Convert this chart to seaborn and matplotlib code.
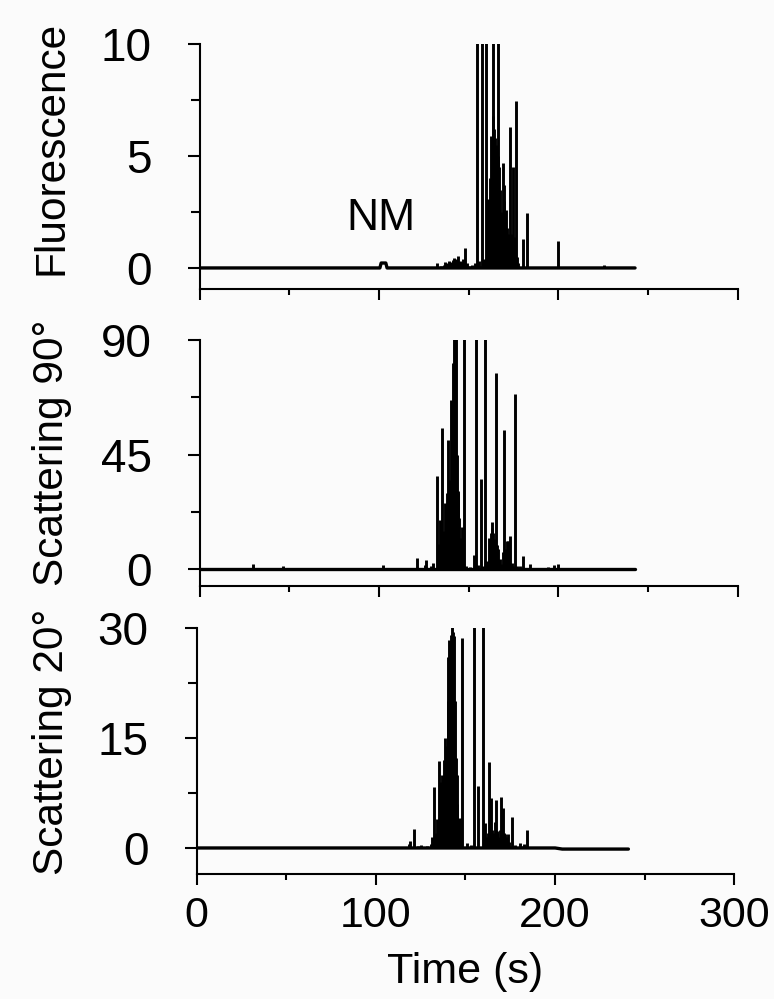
import numpy as np
import pandas as pd
import matplotlib
matplotlib.use("Agg")
import matplotlib.pyplot as plt
import seaborn as sns
from matplotlib.ticker import MultipleLocator

# ---------------- data ----------------
time_ticks = [0, 100, 200, 300]

# Fluorescence panel
fl_base_t = [0, 100.5, 101.2, 103.8, 104.5, 242.8]
fl_base_y = [0, 0, 0.22, 0.22, 0, 0]
fl_spike_t = [132.5, 134.5, 136.0, 137.0, 138.0, 139.0, 140.0, 141.0, 142.0, 143.0,
              144.0, 145.0, 146.0, 147.0, 148.0, 149.0, 150.5, 152.0, 153.5, 154.5,
              156.0, 157.3, 158.5, 159.7, 160.2, 160.6, 161.0, 161.5, 162.0, 162.5,
              163.0, 163.4, 163.8, 164.1, 164.5, 165.1, 165.6, 166.1, 166.6, 167.0,
              167.5, 168.0, 168.5, 169.0, 169.5, 169.9, 170.4, 170.8, 171.3, 171.8,
              172.3, 172.7, 173.1, 173.6, 174.0, 174.5, 174.9, 175.5, 176.2, 176.8,
              177.4, 180.5, 182.7, 200.0, 225.7]
fl_spike_h = [0.2, 0.1, 0.15, 0.25, 0.2, 0.3, 0.25, 0.35, 0.45, 0.4,
              0.55, 0.3, 0.25, 0.4, 0.88, 0.2, 0.1, 0.15, 0.2, 10.5,
              0.3, 10.5, 0.4, 10.5, 1.5, 3.1, 2.2, 2.8, 4.0, 5.9,
              5.0, 10.5, 6.8, 6.2, 5.8, 5.4, 5.5, 5.0, 10.5, 4.5,
              3.5, 1.0, 2.5, 4.7, 3.0, 3.7, 2.2, 2.6, 1.8, 1.5,
              1.2, 1.0, 6.3, 1.5, 1.0, 1.2, 4.5, 1.4, 7.45, 0.5,
              0.2, 1.28, 2.44, 1.2, 0.15]

# Scattering 90 panel
s90_base_t = [0, 242.8]
s90_base_y = [0, 0]
s90_spike_t = [29.5, 46.6, 102.0, 121.0, 125.5, 126.2, 129.0, 130.3, 132.5, 133.3,
               134.0, 134.7, 135.3, 136.0, 136.8, 137.3, 137.7, 138.2, 138.7, 139.3,
               140.0, 140.5, 141.1, 141.6, 142.0, 142.4, 142.8, 143.3, 143.8, 144.3,
               144.8, 145.3, 146.1, 147.4, 148.5, 151.0, 153.2, 154.1, 155.0, 156.9,
               158.0, 159.3, 160.5, 161.5, 162.2, 162.8, 163.3, 163.8, 164.3, 164.7,
               165.3, 165.9, 166.5, 167.5, 168.5, 169.3, 169.9, 170.5, 171.2, 171.7,
               172.1, 172.6, 173.1, 174.0, 175.0, 175.9, 177.0, 178.6, 180.5, 184.2,
               194.5, 197.6, 200.0]
s90_spike_h = [2.0, 1.0, 1.4, 4.3, 1.5, 3.7, 1.0, 2.4, 36.6, 10.0,
               19.4, 12.0, 55.6, 15.0, 25.9, 20.0, 10.2, 30.0, 50.8, 35.0,
               66.4, 40.0, 81.1, 60.0, 95.0, 70.0, 95.0, 45.0, 30.0, 30.5,
               20.0, 12.0, 16.7, 95.0, 1.0, 0.8, 5.6, 95.0, 1.5, 35.3,
               1.0, 95.0, 3.0, 12.2, 14.0, 18.3, 16.1, 14.0, 11.8, 10.0,
               77.2, 9.5, 8.0, 4.0, 2.0, 6.5, 54.7, 8.0, 10.9, 9.0,
               10.9, 4.0, 12.8, 2.4, 1.0, 68.8, 1.0, 1.3, 5.0, 2.1,
               0.8, 1.6, 2.0]

# Scattering 20 panel
s20_base_t = [0, 200.0, 204.0, 240.9]
s20_base_y = [0, 0, -0.15, -0.15]
s20_spike_t = [118.3, 119.0, 121.1, 123.5, 125.2, 128.5, 130.6, 131.5, 132.6, 133.4,
               134.3, 134.9, 135.4, 136.0, 136.6, 137.1, 137.6, 138.1, 138.6, 139.1,
               139.5, 140.0, 140.5, 141.0, 141.5, 142.0, 142.5, 143.0, 143.4, 144.0,
               144.5, 145.0, 145.5, 146.0, 146.8, 148.1, 151.0, 153.0, 154.6, 157.0,
               159.8, 160.7, 161.5, 162.3, 163.1, 163.7, 164.4, 165.0, 165.5, 166.2,
               166.8, 167.3, 167.7, 168.5, 169.3, 170.0, 170.5, 171.1, 171.6, 172.2,
               172.8, 173.5, 174.5, 175.9, 177.5, 180.4, 182.0, 182.8, 184.1]
s20_spike_h = [0.5, 0.91, 2.59, 0.3, 0.45, 0.3, 0.59, 1.5, 8.27, 2.0,
               3.95, 2.5, 11.8, 5.0, 9.0, 10.0, 8.0, 12.0, 15.0, 12.0,
               13.9, 20.0, 26.0, 28.4, 27.0, 29.0, 30.5, 29.5, 28.9, 20.0,
               12.3, 10.0, 6.0, 4.0, 4.1, 28.6, 0.68, 0.4, 30.5, 8.4,
               30.5, 3.4, 1.5, 2.0, 11.7, 3.0, 6.8, 2.5, 2.0, 3.5,
               6.6, 2.3, 2.0, 1.5, 2.5, 7.0, 3.0, 5.5, 2.0, 1.95,
               1.5, 1.95, 0.8, 4.2, 0.4, 0.68, 0.3, 0.59, 2.4]

panel_labels = ["Fluorescence", "Scattering 90\u00b0", "Scattering 20\u00b0"]
y_ticks = [[0, 5, 10], [0, 45, 90], [0, 15, 30]]
y_limits = [(-0.94, 10), (-6.68, 90), (-3.55, 30)]

# ---------------- style ----------------
sns.set_theme(style="ticks")
plt.rcParams["font.family"] = ["Liberation Sans", "DejaVu Sans"]
BG = "#fbfbfb"
LW = 2.1

fig = plt.figure(figsize=(7.74, 9.99), dpi=100, facecolor=BG)
W, H = 774.0, 999.0
boxes = [  # left, top, right, bottom (px)
    (199.7, 44, 737.6, 289),
    (199.7, 340, 737.6, 586),
    (196.7, 628, 734.3, 874),
]

panels = [
    (fl_base_t, fl_base_y, fl_spike_t, fl_spike_h),
    (s90_base_t, s90_base_y, s90_spike_t, s90_spike_h),
    (s20_base_t, s20_base_y, s20_spike_t, s20_spike_h),
]

axes = []
for i, ((l, t, r, b), (bt, by, st, sh)) in enumerate(zip(boxes, panels)):
    ax = fig.add_axes([l / W, 1 - b / H, (r - l) / W, (b - t) / H])
    ax.set_facecolor(BG)
    base = pd.DataFrame({"t": bt, "v": by})
    sns.lineplot(data=base, x="t", y="v", ax=ax, color="black", lw=2.4,
                 estimator=None, sort=False)
    ax.vlines(st, 0, sh, color="black", lw=LW, capstyle="butt")
    ax.set_xlim(0, 300)
    ax.set_ylim(*y_limits[i])
    ax.set_xticks(time_ticks)
    ax.xaxis.set_minor_locator(MultipleLocator(50))
    ax.set_yticks(y_ticks[i])
    ax.yaxis.set_minor_locator(MultipleLocator(y_ticks[i][1] / 2))
    ax.set_xlabel("")
    ax.set_ylabel("")
    for s in ["top", "right"]:
        ax.spines[s].set_visible(False)
    for s in ["left", "bottom"]:
        ax.spines[s].set_linewidth(1.5)
        ax.spines[s].set_color("black")
    ax.tick_params(axis="y", which="major", length=8.6, width=1.5, pad=26,
                   labelsize=33, colors="black", direction="out")
    ax.tick_params(axis="y", which="minor", length=6.5, width=1.5, direction="out",
                   colors="black")
    ax.tick_params(axis="x", which="major", length=8, width=1.5, pad=8,
                   labelsize=31, colors="black", direction="out")
    ax.tick_params(axis="x", which="minor", length=4.5, width=1.5, direction="out",
                   colors="black")
    if i < 2:
        ax.tick_params(axis="x", labelbottom=False)
    axes.append(ax)

axes[0].text(101, 2.2, "NM", ha="center", va="center", fontsize=32, color="black")

label_centers = [148, 453, 742]
for lab, cy in zip(panel_labels, label_centers):
    fig.text(52 / W, 1 - cy / H, lab, rotation=90, ha="center", va="center",
             fontsize=30.5, color="black")

fig.text(465 / W, 1 - 972 / H, "Time (s)", ha="center", va="center",
         fontsize=31, color="black")

fig.savefig("out.png", dpi=100, facecolor=BG)
